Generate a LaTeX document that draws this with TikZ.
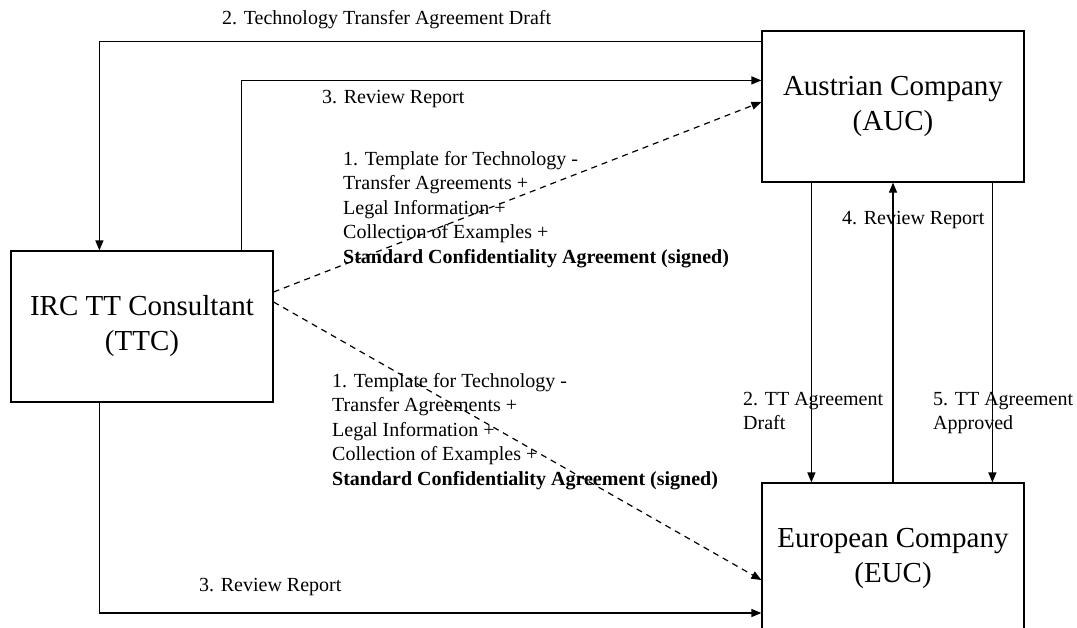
\documentclass[tikz,border=0pt]{standalone}
\usepackage{fontspec}
\setmainfont{Liberation Serif}
\usetikzlibrary{arrows.meta}

\tikzset{
  party/.style={draw,line width=1.2pt,minimum width=262pt,minimum height=151pt,
    align=center,inner sep=0pt,font=\fontsize{29}{35}\selectfont},
  lbl/.style={anchor=west,inner sep=0pt,font=\fontsize{20}{24.5}\selectfont},
  lblblock/.style={lbl,anchor=north west,align=left},
  flow/.style={line width=1.2pt,-{Triangle[length=10pt,width=8pt]}},
  sends/.style={flow,dashed,dash pattern=on 6pt off 5pt}
}

\begin{document}
\begin{tikzpicture}[x=1pt,y=-1pt]
\useasboundingbox (0,0) rectangle (1077,627);
\clip (0,0) rectangle (1077,627);

% the three parties
\node[party] (ttc) at (142,326.5) {IRC TT Consultant\\(TTC)};
\node[party] (auc) at (893,106.5) {Austrian Company\\(AUC)};
\node[party] (euc) at (893,558.5) {European Company\\(EUC)};

% consultant <-> austrian company
\draw[flow] ([yshift=-11pt]auc.north west) -| ([xshift=89pt]ttc.north west);
\draw[flow] ([xshift=-32pt]ttc.north east) |- ([yshift=-50pt]auc.north west);
\draw[sends] ([yshift=34.5pt]ttc.east) -- ([yshift=4.5pt]auc.west);

% consultant -> european company
\draw[sends] ([yshift=24.5pt]ttc.east) -- ([yshift=-21.5pt]euc.west);
\draw[flow] ([xshift=89pt]ttc.south west) |- ([yshift=-54.5pt]euc.west);

% between the two companies
\draw[flow] ([xshift=50pt]auc.south west) -- ([xshift=50pt]euc.north west);
\draw[flow] (euc.north) -- (auc.south);
\draw[flow] ([xshift=231pt]auc.south west) -- ([xshift=231pt]euc.north west);

% labels
\node[lbl] (draft) at (222,20) {2. Technology Transfer Agreement Draft};
\node[lbl] (reviewup) at (322,99) {3. Review Report};
\node[lbl] (reviewdown) at (199,587) {3. Review Report};
\node[lbl] (reviewauc) at (842,220) {4. Review Report};
\node[lblblock] (packup) at (343,151) {1. Template for Technology -\\Transfer Agreements +\\Legal Information +\\Collection of Examples +\\
  \textbf{Standard Confidentiality Agreement (signed)}};
\node[lblblock] (packdown) at (332,373) {1. Template for Technology -\\Transfer Agreements +\\Legal Information +\\Collection of Examples +\\
  \textbf{Standard Confidentiality Agreement (signed)}};
\node[lblblock] (ttdraft) at (743,392) {2. TT Agreement\\Draft};
\node[lblblock] (ttok) at (933,392) {5. TT Agreement\\Approved};
\end{tikzpicture}
\end{document}
